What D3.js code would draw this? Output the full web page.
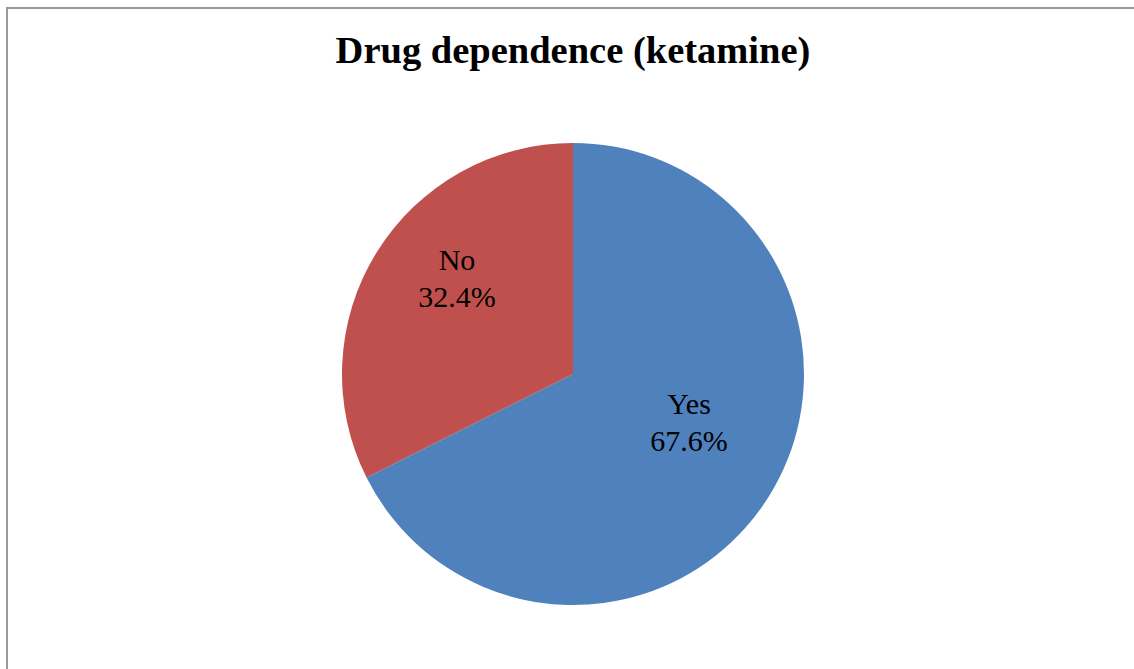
<!DOCTYPE html>
<html>
<head>
<meta charset="utf-8">
<script src="https://cdn.jsdelivr.net/npm/d3@7"></script>
<style>
  html, body { margin: 0; padding: 0; background: #fff; }
  svg { display: block; }
</style>
</head>
<body>
<svg id="chart" width="1134" height="669"></svg>
<script>
const title = "Drug dependence (ketamine)";
const categories = ["Yes", "No"];
const values = [67.6, 32.4];
const colors = ["#4F81BD", "#C0504D"];

const svg = d3.select("#chart");
const W = 1134, H = 669;

// chart border (extends beyond the visible window on right/bottom)
svg.append("rect")
  .attr("x", 7).attr("y", 8)
  .attr("width", W + 20).attr("height", H + 20)
  .attr("fill", "#fff")
  .attr("stroke", "#9a9a9a")
  .attr("stroke-width", 2);

svg.append("text")
  .attr("x", 573).attr("y", 63)
  .attr("text-anchor", "middle")
  .attr("font-family", "'Liberation Serif', 'Times New Roman', serif")
  .attr("font-weight", "bold")
  .attr("font-size", 38.5)
  .attr("fill", "#000")
  .text(title);

const cx = 573, cy = 374, r = 231;
const data = categories.map((c, i) => ({ cat: c, val: values[i], color: colors[i] }));
const pie = d3.pie().value(d => d.val).sort(null);
const arc = d3.arc().innerRadius(0).outerRadius(r);
const labelArc = d3.arc().innerRadius(r * 0.59).outerRadius(r * 0.59);

const g = svg.append("g").attr("transform", `translate(${cx},${cy})`);
const arcs = pie(data);

g.selectAll("path").data(arcs).enter().append("path")
  .attr("d", arc)
  .attr("fill", d => d.data.color);

const fmt = d3.format(".1f");
const lbl = g.selectAll("g.lbl").data(arcs).enter().append("g")
  .attr("class", "lbl")
  .attr("transform", d => { const [x, y] = labelArc.centroid(d); return `translate(${x},${y})`; });

lbl.append("text")
  .attr("text-anchor", "middle")
  .attr("y", -32)
  .attr("font-family", "'Liberation Serif', 'Times New Roman', serif")
  .attr("font-size", 30)
  .attr("fill", "#000")
  .text(d => d.data.cat);
lbl.append("text")
  .attr("text-anchor", "middle")
  .attr("y", 5)
  .attr("font-family", "'Liberation Serif', 'Times New Roman', serif")
  .attr("font-size", 30)
  .attr("fill", "#000")
  .text(d => fmt(d.data.val) + "%");
</script>
</body>
</html>
